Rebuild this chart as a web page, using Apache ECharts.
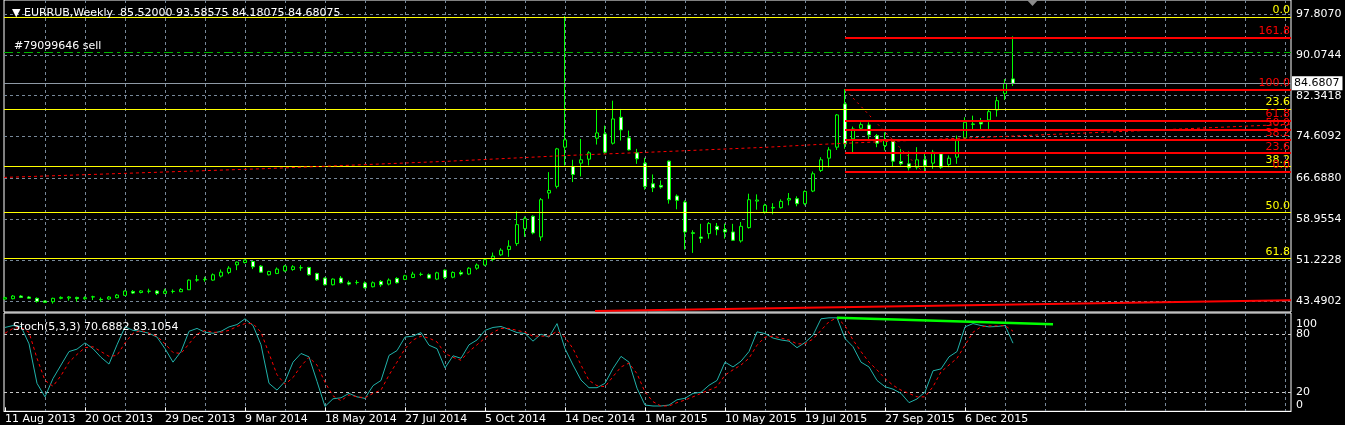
<!DOCTYPE html>
<html><head><meta charset="utf-8">
<script src="https://cdn.jsdelivr.net/npm/echarts@6/dist/echarts.min.js"></script>
<style>html,body{margin:0;padding:0;background:#000;}#c{width:1345px;height:425px;}</style>
</head><body><div id="c"></div>
<script>
// ---- weekly candles (bar index 0 = 11 Aug 2013) ----
const opens  = [43.87,43.93,44.43,44.25,44.00,43.49,43.37,44.00,44.06,44.18,43.93,44.25,43.81,43.87,44.12,44.56,45.30,45.10,45.33,45.38,44.94,45.30,45.25,45.63,47.45,47.52,47.45,48.21,48.90,50.34,50.78,50.97,50.09,48.46,48.71,49.21,49.46,49.78,49.84,48.71,47.83,46.57,47.83,46.95,46.99,46.89,46.19,47.20,46.70,47.77,47.58,47.95,48.52,48.46,47.64,49.34,48.00,48.90,48.60,49.70,50.30,51.35,52.23,53.23,54.36,57.20,59.52,55.62,63.92,65.18,72.60,68.95,69.58,70.33,74.29,75.11,73.35,78.26,74.36,71.53,69.58,65.68,65.37,69.96,63.36,62.22,56.40,55.60,56.25,57.63,57.00,56.56,54.87,57.38,62.40,60.34,61.10,61.15,62.60,62.85,61.91,64.30,68.20,70.52,72.60,80.78,74.17,76.18,76.81,74.80,72.91,73.73,69.90,69.45,68.82,70.21,69.58,71.34,69.33,70.71,74.36,76.90,77.30,77.75,79.64,82.78,85.52];
const highs  = [44.31,44.62,44.62,44.43,44.18,43.62,44.12,44.37,44.43,44.31,44.37,44.50,44.18,44.43,44.81,45.50,45.57,45.57,45.82,45.57,45.82,45.69,45.94,47.58,48.40,48.08,48.71,49.46,50.09,50.97,51.35,51.10,50.28,49.21,49.84,50.28,50.28,50.28,49.97,48.83,47.95,47.77,48.21,47.33,47.45,47.20,47.20,47.45,47.77,48.00,48.46,49.03,48.90,48.71,49.03,49.46,49.10,49.30,49.90,50.60,51.60,52.67,53.48,54.99,60.46,59.50,59.70,62.98,67.88,72.47,97.40,70.21,74.17,71.84,79.83,76.68,81.40,79.83,75.74,72.28,70.59,67.44,66.31,70.08,63.67,62.54,56.88,58.10,58.45,58.26,58.14,58.10,58.45,63.80,63.67,61.90,62.00,62.73,63.92,63.30,64.42,68.00,70.70,72.60,78.88,83.60,76.50,77.30,77.30,75.10,75.42,74.17,72.28,71.78,72.60,71.46,72.09,71.65,71.03,74.80,78.25,78.57,78.13,79.83,82.15,85.48,93.58575];
const lows   = [43.74,43.81,44.06,43.87,43.18,43.12,42.99,43.81,43.55,43.37,43.74,43.68,43.37,43.74,44.00,44.50,44.81,44.94,44.94,44.62,44.81,44.94,45.19,45.57,47.14,47.14,47.33,47.95,48.58,49.34,50.60,49.53,48.83,48.33,48.58,49.03,49.21,49.21,48.33,47.33,46.45,46.45,46.82,46.45,46.63,45.88,46.07,46.19,46.45,46.80,47.45,47.83,48.21,47.70,47.45,47.58,47.80,48.30,48.40,49.40,50.10,51.00,52.04,51.85,53.93,55.62,56.10,54.87,62.85,64.80,69.14,66.00,67.06,69.14,73.10,71.34,73.10,73.85,71.97,69.45,64.55,64.11,64.74,61.91,60.84,53.23,52.60,54.49,55.30,55.93,55.30,54.87,54.55,57.20,60.77,60.02,59.90,60.97,61.60,61.41,61.60,64.10,67.90,68.80,72.09,72.30,71.65,75.70,74.17,72.60,71.97,68.95,69.14,68.20,68.38,68.07,68.51,68.51,68.82,69.45,73.85,75.87,75.87,76.05,78.38,81.52,84.18075];
const closes = [44.12,44.43,44.18,44.00,43.43,43.24,44.00,44.18,44.25,43.93,44.12,44.31,43.74,44.25,44.62,45.38,45.00,45.40,45.35,44.94,45.38,45.32,45.69,47.45,47.52,47.58,48.46,48.96,49.71,50.85,51.22,49.97,48.96,49.09,49.53,50.09,49.97,49.80,48.46,47.51,46.57,47.64,46.95,46.70,47.01,46.00,46.95,46.57,47.45,46.95,48.27,48.58,48.54,47.83,48.83,47.95,48.90,48.60,49.70,50.30,51.30,51.98,53.11,53.86,57.95,59.08,56.38,62.66,64.42,72.28,73.98,67.44,70.21,71.53,75.30,71.65,77.94,75.87,72.09,70.40,65.18,64.93,65.05,62.66,62.54,56.56,56.30,55.35,58.14,57.00,56.56,54.99,57.63,62.66,62.60,61.60,61.20,62.35,62.90,61.91,64.23,67.57,70.21,72.09,78.70,73.23,76.05,76.87,74.92,73.35,73.85,69.96,69.45,68.70,70.21,69.14,71.65,68.82,70.52,73.85,77.31,77.00,76.99,79.32,81.40,84.67,84.68075];

// ---- Stochastic(5,3,3) ----
const stochK = [87,89,88,70,29,15,34,48,62,64.5,71,65,56,49,69,87.6,84,83,81,77,65,51,62,83,86,82,81,83,87.6,90,96,89,69,29,22,31,51,60,56.5,31,5,13,14,18.6,15,13.4,26.6,32,58,63,77,78,81.7,68.6,65,45,57.6,55,69,74,84,87,88,85,81.7,80.7,72.8,80,77,91,65,48,32.4,24.5,24.5,29,44.5,57,51,24,6.5,5.5,5.5,6.5,12,13.5,18.6,19.7,27,32,51,46,52,62,82.4,80.7,76,74,72.8,66,71.4,79,96,97,97,75.5,67,51,46,32,25.5,23,18.6,9,12.8,20,42,44,56.5,62,87.6,91,89,87.6,88,89,70.69];
const stochD = [81,86,87,82,55,32,26,37,51,59,66,67,62,57,58,71,81,84,81,78,70,61,60,70,80,84,82,82,84,88,91,91,82,60,38,28,35,47,56,48,30,16,11,17,15,14,18.6,22,37.6,51,65,74,78,76,72,60,56,53,62,69,76,82,86,86,84,82,78,78,78,83,77,65,48,32,26.6,25.5,36,46,50,39,20,10,5.5,5.5,9,11.7,15,18.6,22,25.5,37.6,43,48,55,68.6,77,78,76,74,70,70,75,84,93,97,89,74,62,51,43,34,27,22,18.6,15,15,25.5,41,48,55,68.6,82,87.6,88.6,88.6,89,83.11];

// ---- axes ----
const xLabelBars = [0,10,20,30,40,50,60,70,80,90,100,110,120];
const xLabels = ["11 Aug 2013","20 Oct 2013","29 Dec 2013","9 Mar 2014","18 May 2014","27 Jul 2014","5 Oct 2014","14 Dec 2014","1 Mar 2015","10 May 2015","19 Jul 2015","27 Sep 2015","6 Dec 2015"];
const gridBars = [5,10,15,20,25,30,35,40,45,50,55,60,65,70,75,80,85,90,95,100,105,110,115,120,125,130,135,140,145,150,155,160];
const priceTicks = [43.4902,51.2228,58.9554,66.6880,74.6092,82.3418,90.0744,97.8070];
const stochLevels = [20,80];
const stochTopLabel = [100];
const stochBottomLabel = [0];

// ---- objects drawn on the chart ----
const yellowFibNames  = ["0.0","23.6","38.2","50.0","61.8"];
const yellowFibPrices = [97.24,79.83,68.95,60.28,51.55];
const redFibNames  = ["0.0","23.6","38.2","50.0","61.8","100.0","161.8"];
const redFibPrices = [67.88,71.46,73.99,75.87,77.57,83.53,93.34];
const redFibStartBar = 105;
const redFibBase = [[105,83.53],[114.75,67.88]];
const redDashedTrend = [[-0.125,66.88],[33.1,68.57],[55.6,69.95],[70.25,71.03],[80.6,71.65],[95.25,72.59],[101.5,73.10],[118.5,74.23],[147.25,76.06],[160.75,76.95]];
const redBottomTrend = [[73.75,41.62],[160.75,43.66]];
const stochTrend = [[104,97.2],[131,90.3]];
const orderPrice = 90.58;
const lastPrice = 84.68075;
const lastPriceText = '84.6807';

const FONT = 'DejaVu Sans';
const X_MIN = -0.125, X_MAX = 160.75;
const LIME = '#00ff00';

// candlestick rows: [bar, open, close, low, high]
const candleData = opens.map((o, i) => [i, o, closes[i], lows[i], highs[i]]);

const fibLabel = (color) => ({ show: true, position: 'insideEndTop', distance: [1, 1], color: color, fontFamily: FONT, fontSize: 11 });

const markLineData = [];
yellowFibPrices.forEach((p, k) => markLineData.push({
  yAxis: p, lineStyle: { color: '#ffff00', width: 1, type: 'solid' },
  label: Object.assign(fibLabel('#ffff00'), { formatter: yellowFibNames[k] })
}));
redFibPrices.forEach((p, k) => markLineData.push([
  { coord: [redFibStartBar, p], lineStyle: { color: '#ff0000', width: 2, type: 'solid' },
    label: Object.assign(fibLabel('#ff0000'), { formatter: redFibNames[k] }) },
  { coord: [X_MAX, p] }
]));
markLineData.push({
  yAxis: orderPrice, lineStyle: { color: '#00b400', width: 1, type: [9, 4, 3, 4] },
  label: { show: true, position: 'insideStartTop', distance: [10, 1], formatter: '#79099646 sell', color: '#ffffff', fontFamily: FONT, fontSize: 11 }
});
markLineData.push({
  yAxis: lastPrice, lineStyle: { color: '#8f9aa6', width: 1, type: 'solid' },
  label: { show: true, position: 'end', distance: 1, formatter: lastPriceText, color: '#000', backgroundColor: '#fff', padding: [2, 3, 1, 2], fontFamily: FONT, fontSize: 11 }
});

const stochLabelBase = { show: true, margin: 5, color: '#ffffff', fontFamily: FONT, fontSize: 11 };

const chart = echarts.init(document.getElementById('c'), null, { renderer: 'canvas' });
chart.setOption({
  backgroundColor: '#000000',
  animation: false,
  title: [
    { text: '\u25BC EURRUB,Weekly  85.52000 93.58575 84.18075 84.68075', left: 7, top: 3,
      textStyle: { color: '#ffffff', fontFamily: FONT, fontSize: 11, fontWeight: 'normal' } },
    { text: 'Stoch(5,3,3) 70.6882 83.1054', left: 8, top: 317,
      textStyle: { color: '#ffffff', fontFamily: FONT, fontSize: 11, fontWeight: 'normal' } }
  ],
  grid: [
    { left: 4, right: 54, top: -1, height: 313, show: true, borderColor: '#ffffff', borderWidth: 1, backgroundColor: 'transparent' },
    { left: 4, right: 54, top: 313, height: 98.3, show: true, borderColor: '#ffffff', borderWidth: 1, backgroundColor: 'transparent' }
  ],
  xAxis: [
    { type: 'value', gridIndex: 0, min: X_MIN, max: X_MAX, axisLine: { show: false },
      axisTick: { show: false, customValues: gridBars }, axisLabel: { show: false },
      splitLine: { show: true, lineStyle: { color: '#778899', type: [3, 3], width: 1 } } },
    { type: 'value', gridIndex: 1, position: 'top', min: X_MIN, max: X_MAX, axisLine: { show: false },
      axisTick: { show: false, customValues: gridBars }, axisLabel: { show: false },
      splitLine: { show: true, lineStyle: { color: '#778899', type: [3, 3], width: 1 } } },
    { type: 'value', gridIndex: 1, position: 'bottom', min: X_MIN, max: X_MAX,
      axisLine: { show: true, lineStyle: { color: '#ffffff', width: 1 } },
      axisTick: { show: true, inside: true, length: 4, customValues: xLabelBars, lineStyle: { color: '#ffffff' } },
      axisLabel: { show: true, customValues: xLabelBars, formatter: v => xLabels[xLabelBars.indexOf(Math.round(v))] || '',
        align: 'left', color: '#ffffff', fontFamily: FONT, fontSize: 11, margin: 2 },
      splitLine: { show: false } }
  ],
  yAxis: [
    { type: 'value', gridIndex: 0, position: 'right', min: 41.416, max: 100.447, axisLine: { show: false },
      axisTick: { show: false, customValues: priceTicks },
      axisLabel: { show: true, customValues: priceTicks, formatter: v => v.toFixed(4), color: '#ffffff', fontFamily: FONT, fontSize: 11, margin: 5 },
      splitLine: { show: true, lineStyle: { color: '#778899', type: [3, 3], width: 1 } } },
    { type: 'value', gridIndex: 1, position: 'right', min: 0, max: 102, axisLine: { show: false },
      axisTick: { show: false, customValues: stochLevels },
      axisLabel: Object.assign({ customValues: stochLevels, formatter: v => String(Math.round(v)) }, stochLabelBase),
      splitLine: { show: true, lineStyle: { color: '#c8c8c8', type: [3, 3], width: 1 } } },
    { type: 'value', gridIndex: 1, position: 'right', min: 0, max: 102, axisLine: { show: false },
      axisTick: { show: false, customValues: stochTopLabel },
      axisLabel: Object.assign({ customValues: stochTopLabel, verticalAlign: 'top', padding: [4, 0, 0, 0], formatter: v => String(Math.round(v)) }, stochLabelBase),
      splitLine: { show: false } },
    { type: 'value', gridIndex: 1, position: 'right', min: 0, max: 102, axisLine: { show: false },
      axisTick: { show: false, customValues: stochBottomLabel },
      axisLabel: Object.assign({ customValues: stochBottomLabel, verticalAlign: 'bottom', padding: [0, 0, 1, 0], formatter: v => String(Math.round(v)) }, stochLabelBase),
      splitLine: { show: false } }
  ],
  series: [
    { type: 'candlestick', name: 'EURRUB', xAxisIndex: 0, yAxisIndex: 0, clip: true,
      encode: { x: 0, y: [1, 2, 3, 4] }, data: candleData, z: 3, barWidth: 4,
      itemStyle: { color: '#000000', color0: '#ffffff', borderColor: LIME, borderColor0: LIME, borderWidth: 1 } },
    { type: 'line', name: 'trend', xAxisIndex: 0, yAxisIndex: 0, data: redDashedTrend, symbol: 'none', z: 5,
      lineStyle: { color: '#ff0000', width: 1, type: [3, 3] },
      markLine: { silent: true, symbol: ['none', 'none'], animation: false, data: markLineData } },
    { type: 'line', name: 'fibBase', xAxisIndex: 0, yAxisIndex: 0, data: redFibBase, symbol: 'none', z: 5,
      lineStyle: { color: '#ff0000', width: 1, type: [2, 4] } },
    { type: 'line', name: 'bottomTrend', xAxisIndex: 0, yAxisIndex: 0, data: redBottomTrend, symbol: 'none', z: 5,
      lineStyle: { color: '#ff0000', width: 2 } },
    { type: 'line', name: '%K', xAxisIndex: 1, yAxisIndex: 1, data: stochK.map((v, i) => [i, v]), symbol: 'none', z: 4,
      lineStyle: { color: '#20b2aa', width: 1 } },
    { type: 'line', name: '%D', xAxisIndex: 1, yAxisIndex: 1, data: stochD.map((v, i) => [i, v]), symbol: 'none', z: 4,
      lineStyle: { color: '#ff0000', width: 1, type: [3, 3] } },
    { type: 'line', name: 'stochTrend', xAxisIndex: 1, yAxisIndex: 1, data: stochTrend, symbol: 'none', z: 5,
      lineStyle: { color: '#00ff00', width: 2.5 } }
  ],
  graphic: [
    { type: 'polygon', shape: { points: [[1027, 0], [1038, 0], [1032.5, 6]] }, style: { fill: '#8a8a8a' }, z: 10 }
  ]
});
</script></body></html>
